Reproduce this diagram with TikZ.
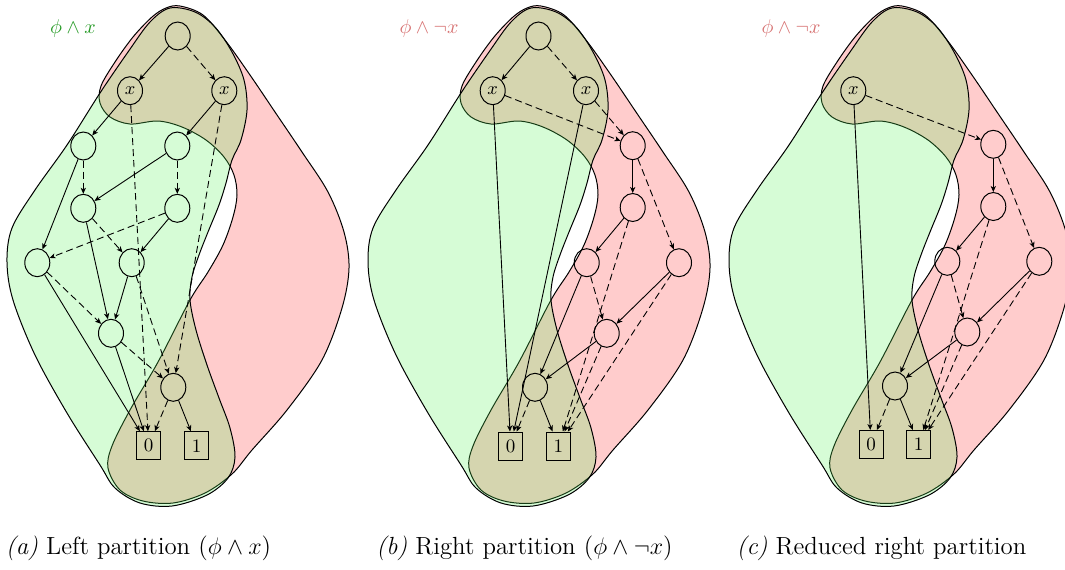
\documentclass[tikz,border=0pt]{standalone}
\usetikzlibrary{arrows.meta,shapes.geometric}
\definecolor{blobred}{RGB}{255,204,204}
\definecolor{blobgreen}{RGB}{91,243,91}
\definecolor{lblgreen}{RGB}{40,155,40}
\definecolor{lblred}{RGB}{215,115,115}
\tikzset{
  bnode/.style={draw, ellipse, minimum width=12.5pt, minimum height=14pt, inner sep=0pt, line width=0.5pt, font=\fontsize{9}{10}\selectfont},
  leaf/.style={draw, rectangle, minimum width=12pt, minimum height=14pt, inner sep=0pt, line width=0.5pt, font=\fontsize{9.5}{10}\selectfont},
  hi/.style={line width=0.45pt, -{Stealth[length=3pt,width=2.6pt,inset=0.8pt]}},
  lo/.style={hi, dash pattern=on 3.5pt off 2pt},
  redblob/.style={fill=blobred, draw=black, line width=0.5pt},
  greenblob/.style={fill=blobgreen, fill opacity=0.25, draw=black, draw opacity=1, line width=0.5pt},
  lbl/.style={inner sep=0pt, font=\fontsize{9.6}{11}\selectfont},
  captext/.style={inner sep=0pt, font=\fontsize{12.4}{14}\selectfont}
}
\begin{document}
\begin{tikzpicture}[x=0.5pt,y=-0.5pt]
\useasboundingbox (0,0) rectangle (1065,569);
% blobs
\foreach \dx in {0,361,722}{
\begin{scope}[shift={(\dx,0)}]
\draw[redblob] plot[smooth cycle, tension=0.55] coordinates {
(180,6) (203,15) (225,40) (250,75) (275,112) (302,152) (328,192) (344,232) (349,268) (342,308) (322,360) (287,410) (252,450) (232,474) (205,493) (173,503) (143,501) (120,490) (108,468) (112,446) (130,410) (158,362) (190,300) (208,272) (223,245) (233,217) (237,195) (234,175) (224,157) (206,140) (182,127) (158,121) (130,124) (110,117) (100,103) (101,86) (115,62) (133,37) (152,17) (166,8)};
\draw[greenblob] plot[smooth cycle, tension=0.55] coordinates {
(170,8) (195,12) (215,27) (232,52) (244,80) (247,110) (241,140) (232,160) (226,183) (219,205) (208,232) (199,255) (192,277) (190,300) (196,330) (207,365) (219,398) (230,428) (235,457) (228,478) (207,495) (172,506) (140,503) (115,488) (100,465) (67,413) (35,355) (13,300) (7,262) (12,228) (35,190) (67,145) (100,93) (128,52) (150,22)};
\end{scope}
}
% panel (a)
\node[lbl, text=lblgreen] (la) at (73,28) {$\phi\wedge x$};
\node[bnode] (ar) at (177.7,36) {};
\node[bnode] (ax1) at (130,90.7) {$x$};
\node[bnode] (ax2) at (224.3,90.7) {$x$};
\node[bnode] (aa1) at (83.3,146) {};
\node[bnode] (aa2) at (177.3,146) {};
\node[bnode] (ab1) at (83.3,208.3) {};
\node[bnode] (ab2) at (177.3,208.3) {};
\node[bnode] (ac1) at (37.3,262.7) {};
\node[bnode] (ac2) at (131.7,262.7) {};
\node[bnode] (ad) at (111,333.3) {};
\node[bnode] (ae) at (173.3,387.3) {};
\node[leaf] (a0) at (148.7,445.7) {0};
\node[leaf] (a1) at (196.7,445.7) {1};
\draw[hi] (ar) -- (ax1); \draw[lo] (ar) -- (ax2);
\draw[hi] (ax1) -- (aa1); \draw[lo] (ax1) -- (a0);
\draw[hi] (ax2) -- (aa2); \draw[lo] (ax2) -- (ae);
\draw[hi] (aa1) -- (ac1); \draw[lo] (aa1) -- (ab1);
\draw[hi] (aa2) -- (ab1); \draw[lo] (aa2) -- (ab2);
\draw[hi] (ab1) -- (ad); \draw[lo] (ab1) -- (ac2);
\draw[hi] (ab2) -- (ac2); \draw[lo] (ab2) -- (ac1);
\draw[hi] (ac1) -- (a0); \draw[lo] (ac1) -- (ad);
\draw[hi] (ac2) -- (ad); \draw[lo] (ac2) -- (ae);
\draw[hi] (ad) -- (a0); \draw[lo] (ad) -- (ae);
\draw[hi] (ae) -- (a1); \draw[lo] (ae) -- (a0);
% panel (b)
\node[lbl, text=lblred] (lb) at (429,28) {$\phi\wedge\neg x$};
\node[bnode] (br) at (538.5,36) {};
\node[bnode] (bx1) at (492.7,90.7) {$x$};
\node[bnode] (bx2) at (586,90.7) {$x$};
\node[bnode] (bp1) at (632.7,145.7) {};
\node[bnode] (bp2) at (632.7,207.5) {};
\node[bnode] (bp3) at (586.7,262.7) {};
\node[bnode] (bp4) at (679,262.7) {};
\node[bnode] (bp5) at (606.7,333.3) {};
\node[bnode] (bq) at (535,387.3) {};
\node[leaf] (b0) at (510.7,446) {0};
\node[leaf] (b1) at (558.3,446) {1};
\draw[hi] (br) -- (bx1); \draw[lo] (br) -- (bx2);
\draw[hi] (bx1) -- (b0); \draw[lo] (bx1) -- (bp1);
\draw[hi] (bx2) -- (b0); \draw[lo] (bx2) -- (bp1);
\draw[hi] (bp1) -- (bp2); \draw[lo] (bp1) -- (bp4);
\draw[hi] (bp2) -- (bp3); \draw[lo] (bp2) -- (b1);
\draw[hi] (bp3) -- (bq); \draw[lo] (bp3) -- (bp5);
\draw[hi] (bp4) -- (bp5); \draw[lo] (bp4) -- (b1);
\draw[hi] (bp5) -- (bq); \draw[lo] (bp5) -- (b1);
\draw[hi] (bq) -- (b1); \draw[lo] (bq) -- (b0);
% panel (c)
\node[lbl, text=lblred] (lc) at (791,28) {$\phi\wedge\neg x$};
\node[bnode] (cx) at (853.3,90.7) {$x$};
\node[bnode] (cp1) at (993.3,144.3) {};
\node[bnode] (cp2) at (993.3,206.5) {};
\node[bnode] (cp3) at (947.3,261.3) {};
\node[bnode] (cp4) at (1039.3,261.3) {};
\node[bnode] (cp5) at (967.3,332) {};
\node[bnode] (cq) at (895,386) {};
\node[leaf] (c0) at (871,444.5) {0};
\node[leaf] (c1) at (918.7,444.5) {1};
\draw[hi] (cx) -- (c0); \draw[lo] (cx) -- (cp1);
\draw[hi] (cp1) -- (cp2); \draw[lo] (cp1) -- (cp4);
\draw[hi] (cp2) -- (cp3); \draw[lo] (cp2) -- (c1);
\draw[hi] (cp3) -- (cq); \draw[lo] (cp3) -- (cp5);
\draw[hi] (cp4) -- (cp5); \draw[lo] (cp4) -- (c1);
\draw[hi] (cp5) -- (cq); \draw[lo] (cp5) -- (c1);
\draw[hi] (cq) -- (c1); \draw[lo] (cq) -- (c0);
% captions
\node[captext] (capa) at (138.5,548) {\textit{(a)} Left partition ($\phi\wedge x$)};
\node[captext] (capb) at (524.5,548) {\textit{(b)} Right partition ($\phi\wedge\neg x$)};
\node[captext] (capc) at (881.5,548) {\textit{(c)} Reduced right partition};
\end{tikzpicture}
\end{document}
